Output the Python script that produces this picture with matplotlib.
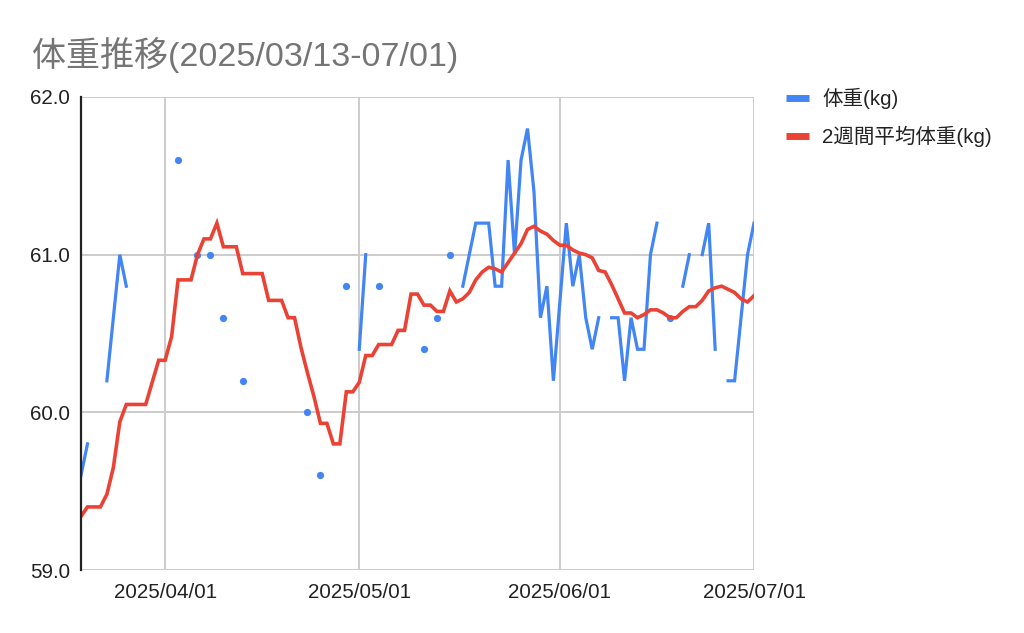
import numpy as np
import pandas as pd
import matplotlib
matplotlib.use("Agg")
import matplotlib.pyplot as plt
import matplotlib.dates as mdates
from matplotlib.lines import Line2D

plt.rcParams['font.family'] = ['Liberation Sans', 'Noto Sans CJK JP', 'DejaVu Sans']

# daily data 2025/03/19 - 2025/07/01 (nan = no measurement)
dates = pd.date_range("2025-03-19", "2025-07-01", freq="D")
nan = np.nan
weight = [
    59.6, 59.8, nan, nan, 60.2, 60.6, 61.0, 60.8, nan, nan,   # 03/19-
    nan, nan, nan, nan, nan, 61.6, nan, nan, 61.0, nan,       # 03/29-
    61.0, nan, 60.6, nan, nan, 60.2, nan, nan, nan, nan,      # 04/08-
    nan, nan, nan, nan, nan, 60.0, nan, 59.6, nan, nan,       # 04/18-
    nan, 60.8, nan, 60.4, 61.0, nan, 60.8, nan, nan, nan,     # 04/28-
    nan, nan, nan, 60.4, nan, 60.6, nan, 61.0, nan, 60.8,     # 05/08-
    61.0, 61.2, 61.2, 61.2, 60.8, 60.8, 61.6, 61.0, 61.6, 61.8,  # 05/18-
    61.4, 60.6, 60.8, 60.2, 60.7, 61.2, 60.8, 61.0, 60.6, 60.4,  # 05/28-
    60.6, nan, 60.6, 60.6, 60.2, 60.6, 60.4, 60.4, 61.0, 61.2,   # 06/07-
    nan, 60.6, nan, 60.8, 61.0, nan, 61.0, 61.2, 60.4, nan,      # 06/17-
    60.2, 60.2, 60.6, 61.0, 61.2,                                # 06/27-
]
avg_2w = [
    59.34, 59.40, 59.40, 59.40, 59.48, 59.65, 59.94, 60.05, 60.05, 60.05,
    60.05, 60.19, 60.33, 60.33, 60.48, 60.84, 60.84, 60.84, 61.00, 61.10,
    61.10, 61.20, 61.05, 61.05, 61.05, 60.88, 60.88, 60.88, 60.88, 60.71,
    60.71, 60.71, 60.60, 60.60, 60.41, 60.25, 60.10, 59.93, 59.93, 59.80,
    59.80, 60.13, 60.13, 60.19, 60.36, 60.36, 60.43, 60.43, 60.43, 60.52,
    60.52, 60.75, 60.75, 60.68, 60.68, 60.64, 60.64, 60.77, 60.70, 60.72,
    60.76, 60.84, 60.89, 60.92, 60.91, 60.89, 60.95, 61.01, 61.07, 61.16,
    61.18, 61.15, 61.13, 61.09, 61.06, 61.06, 61.03, 61.01, 61.00, 60.98,
    60.90, 60.89, 60.81, 60.72, 60.63, 60.63, 60.60, 60.62, 60.65, 60.65,
    60.63, 60.60, 60.60, 60.64, 60.67, 60.67, 60.71, 60.77, 60.79, 60.80,
    60.78, 60.76, 60.72, 60.70, 60.74,
]
y_ticks = [59.0, 60.0, 61.0, 62.0]
x_ticks = ["2025-04-01", "2025-05-01", "2025-06-01", "2025-07-01"]

title = "体重推移(2025/03/13-07/01)"
label_w = "体重(kg)"
label_avg = "2週間平均体重(kg)"

BLUE = "#4285F4"
RED = "#EA4335"

w = np.array(weight, dtype=float)
# points with no neighbour get drawn as dots (like Sheets does)
prev_nan = np.concatenate([[True], np.isnan(w[:-1])])
next_nan = np.concatenate([np.isnan(w[1:]), [True]])
lonely = ~np.isnan(w) & prev_nan & next_nan

fig = plt.figure(figsize=(10.24, 6.33), dpi=100)
ax = fig.add_axes([81 / 1024, 1 - 570 / 633, 673 / 1024, 473 / 633])

ax.plot(dates, w, color=BLUE, lw=2.3, solid_joinstyle="miter", zorder=3)
ax.plot(dates[lonely], w[lonely], "o", color=BLUE, ms=5.2, mec="none", zorder=3)
ax.plot(dates, avg_2w, color=RED, lw=2.6, solid_joinstyle="miter", zorder=4)

ax.set_xlim(dates[0], dates[-1])
ax.set_ylim(y_ticks[0], y_ticks[-1])
ax.set_yticks(y_ticks)
ax.yaxis.set_major_formatter(matplotlib.ticker.FormatStrFormatter("%.1f"))
ax.set_xticks(pd.to_datetime(x_ticks))
ax.xaxis.set_major_formatter(mdates.DateFormatter("%Y/%m/%d"))
ax.tick_params(length=0, labelsize=14.8, labelcolor="#222222")
ax.tick_params(axis="x", pad=9)
ax.tick_params(axis="y", pad=8)

ax.grid(True, color="#cccccc", lw=1.4)
ax.set_axisbelow(True)
for s in ["top", "right", "bottom"]:
    ax.spines[s].set_visible(False)
ax.spines["left"].set_color("#222222")
ax.spines["left"].set_linewidth(1.6)
ax.spines["left"].set_zorder(5)

fig.text(32 / 1024, 1 - 66 / 633, title, fontsize=24.5, color="#757575", va="baseline")

handles = [Line2D([], [], color=BLUE, lw=5, solid_capstyle="butt"),
           Line2D([], [], color=RED, lw=5, solid_capstyle="butt")]
fig.legend(handles, [label_w, label_avg], loc="upper left",
           bbox_to_anchor=(778 / 1024, 1 - 80 / 633), frameon=False,
           fontsize=14.8, labelcolor="#222222", handlelength=1.1,
           handletextpad=0.65, labelspacing=0.8, borderaxespad=0)

fig.savefig("out.png", dpi=100)
